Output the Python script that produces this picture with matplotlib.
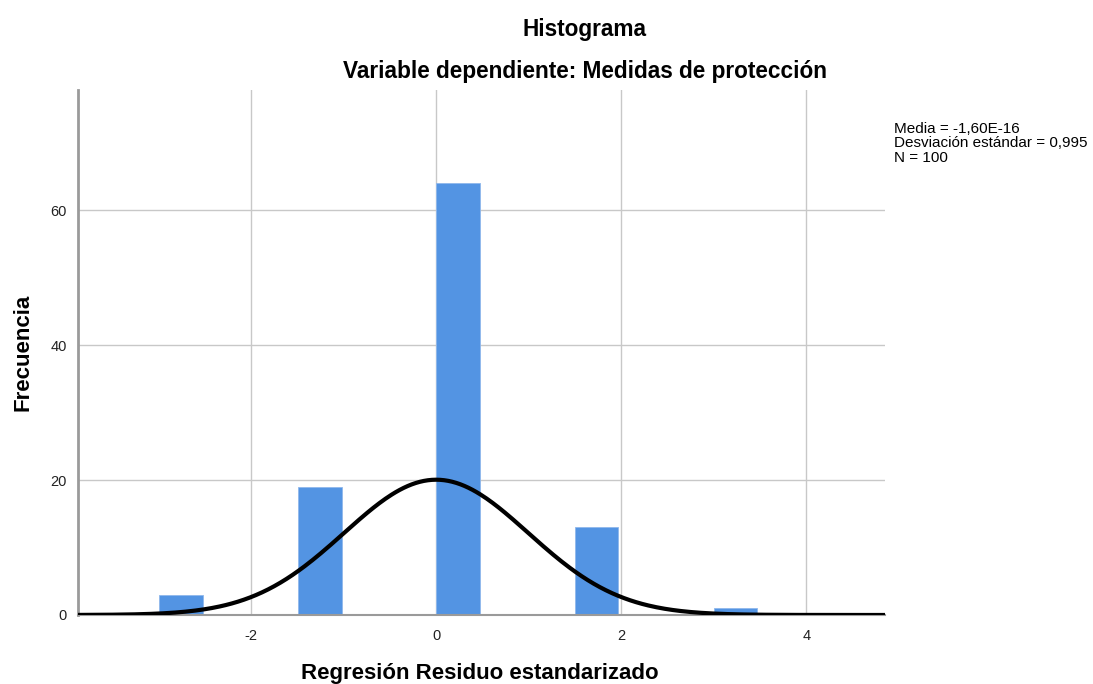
import numpy as np
import matplotlib.pyplot as plt

plt.rcParams["font.family"] = ["Liberation Sans", "DejaVu Sans"]
plt.rcParams["axes.unicode_minus"] = False

# histogram bins
bin_left = [-2.99, -1.49, 0.0, 1.50, 3.00]
bin_width = 0.47
counts = [3, 19, 64, 13, 1]

mean = -1.60e-16
std = 0.995
n = 100
curve_bin = 0.5

x_ticks = [-2, 0, 2, 4]
y_ticks = [0, 20, 40, 60]

fig = plt.figure(figsize=(10.93, 6.84), dpi=100)
ax = fig.add_axes([0.0714, 0.1009, 0.7383, 0.7675])

ax.bar(bin_left, counts, width=bin_width, align="edge", color="#5394e3",
       edgecolor="#8fb8ec", linewidth=0.6, zorder=2)

# normal curve from the mean / sd / N shown in the legend text
xs = np.linspace(-3.87, 4.85, 400)
ys = n * curve_bin * np.exp(-0.5 * ((xs - mean) / std) ** 2) / (std * np.sqrt(2 * np.pi))
ax.plot(xs, ys, color="black", linewidth=3, zorder=3)

ax.set_xlim(-3.87, 4.85)
ax.set_ylim(0, 77.8)
ax.set_xticks(x_ticks)
ax.set_yticks(y_ticks)
ax.tick_params(length=0, labelsize=10.5, colors="#222222", pad=8)
ax.tick_params(axis="x", pad=10)
ax.grid(True, color="#c8c8c8", linewidth=1, zorder=0)
ax.set_axisbelow(True)

for side in ["top", "right"]:
    ax.spines[side].set_visible(False)
ax.spines["left"].set_color("#9a9a9a")
ax.spines["left"].set_linewidth(2)
ax.spines["bottom"].set_color("#9a9a9a")
ax.spines["bottom"].set_linewidth(1.5)

fig.text(0.439, 0.015, "Regresión Residuo estandarizado", ha="center", va="center",
         fontsize=16, fontweight="bold")
fig.text(0.021, 0.485, "Frecuencia", ha="center", va="center", rotation=90,
         fontsize=16, fontweight="bold")

fig.text(0.535, 0.957, "Histograma", ha="center", va="center", fontsize=16.3, fontweight="bold")
fig.text(0.535, 0.896, "Variable dependiente: Medidas de protección", ha="center", va="center",
         fontsize=16.3, fontweight="bold")

fig.text(0.818, 0.822,
         "Media = -1,60E-16\nDesviación estándar = 0,995\nN = 100",
         ha="left", va="top", fontsize=11, linespacing=1.05)

fig.savefig("out.png", dpi=100)
